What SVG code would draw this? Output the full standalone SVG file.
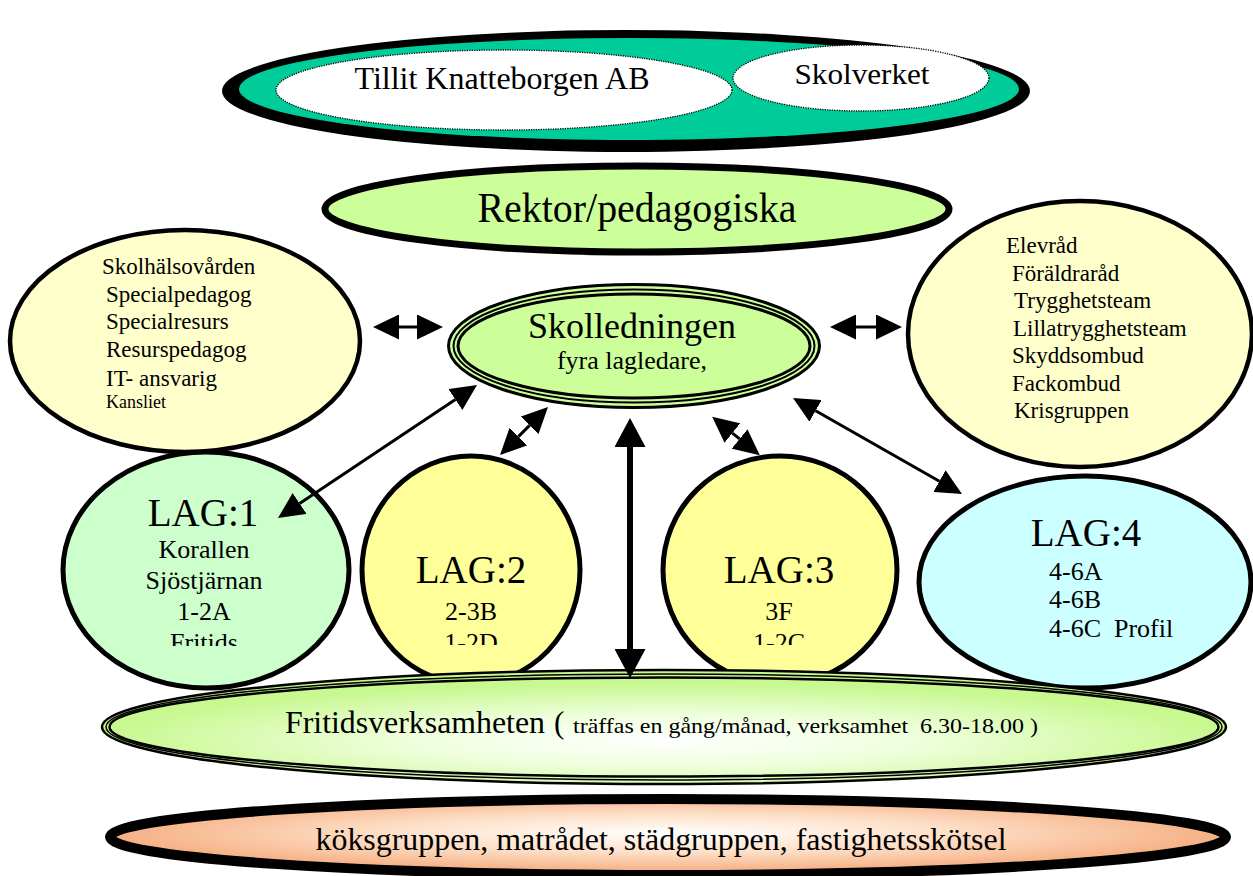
<svg xmlns="http://www.w3.org/2000/svg" width="1253" height="876" viewBox="0 0 1253 876">
<defs>
<style>
text{font-family:"Liberation Serif","Times New Roman",serif;fill:#000}
.mid{text-anchor:middle}
.ln{stroke:#000;fill:none}
.conn{stroke:#000;stroke-width:3;fill:none;marker-start:url(#ah);marker-end:url(#ah)}
.connB{stroke:#000;stroke-width:6;fill:none;marker-start:url(#ahB);marker-end:url(#ahB)}
.dot{fill:#fff;stroke:#000;stroke-width:1.3;stroke-dasharray:1.2 1.2}
</style>
<marker id="ah" markerUnits="userSpaceOnUse" viewBox="0 0 26 25" markerWidth="26" markerHeight="25" refX="0" refY="12.5" orient="auto-start-reverse"><path d="M0,0 L26,12.5 L0,25 Z" fill="#000"/></marker>
<marker id="ahB" markerUnits="userSpaceOnUse" viewBox="0 0 29 31" markerWidth="29" markerHeight="31" refX="0" refY="15.5" orient="auto-start-reverse"><path d="M0,0 L29,15.5 L0,31 Z" fill="#000"/></marker>
<radialGradient id="gFrit" cx="0.5" cy="0.62" r="0.5">
<stop offset="0" stop-color="#FFFFFF"/><stop offset="0.45" stop-color="#EFFFDD"/><stop offset="1" stop-color="#C8F890"/>
</radialGradient>
<radialGradient id="gKok" cx="0.5" cy="0.45" r="0.5">
<stop offset="0" stop-color="#FFFFFF"/><stop offset="0.5" stop-color="#FDE0C8"/><stop offset="1" stop-color="#F6B084"/>
</radialGradient>
<clipPath id="clipL1"><rect x="0" y="0" width="1253" height="646"/></clipPath>
<clipPath id="clipL23"><rect x="0" y="0" width="1253" height="645"/></clipPath>
</defs>

<g id="top-owner">
<ellipse cx="626" cy="91" rx="404" ry="61" fill="#000"/>
<ellipse cx="629" cy="89" rx="390" ry="51" fill="#00CC99"/>
<ellipse class="dot" cx="504" cy="90" rx="228" ry="40"/>
<ellipse class="dot" cx="861" cy="78" rx="128" ry="33"/>
<text class="mid" x="502" y="89" font-size="32" textLength="295" lengthAdjust="spacingAndGlyphs">Tillit Knatteborgen AB</text>
<text class="mid" x="862" y="84" font-size="30" textLength="135" lengthAdjust="spacingAndGlyphs">Skolverket</text>
</g>

<g id="rektor">
<ellipse cx="637" cy="209" rx="312" ry="43" fill="#CCFF99" stroke="#000" stroke-width="7"/>
<text class="mid" x="637" y="222" font-size="43" textLength="319" lengthAdjust="spacingAndGlyphs">Rektor/pedagogiska</text>
</g>

<g id="elevhalsa">
<ellipse cx="185" cy="341" rx="175" ry="111" fill="#FFFFCC" stroke="#000" stroke-width="4.5"/>
<text x="102" y="274" font-size="23">Skolhälsovården</text>
<text x="106" y="302" font-size="23">Specialpedagog</text>
<text x="106" y="329" font-size="23">Specialresurs</text>
<text x="106" y="357" font-size="23">Resurspedagog</text>
<text x="106" y="386" font-size="23">IT- ansvarig</text>
<text x="106" y="408" font-size="18">Kansliet</text>
</g>

<g id="rad">
<ellipse cx="1080" cy="334" rx="172" ry="133" fill="#FFFFCC" stroke="#000" stroke-width="4.5"/>
<text x="1006" y="253" font-size="23">Elevråd</text>
<text x="1012" y="281" font-size="23">Föräldraråd</text>
<text x="1014" y="308" font-size="23">Trygghetsteam</text>
<text x="1013" y="336" font-size="23">Lillatrygghetsteam</text>
<text x="1012" y="363" font-size="23">Skyddsombud</text>
<text x="1012" y="391" font-size="23">Fackombud</text>
<text x="1014" y="418" font-size="23">Krisgruppen</text>
</g>

<g id="skolledningen">
<ellipse cx="634" cy="346" rx="185.5" ry="61.5" fill="#CCFF99" stroke="#000" stroke-width="3"/>
<ellipse class="ln" cx="634" cy="346" rx="180.5" ry="56.5" stroke-width="2"/>
<ellipse class="ln" cx="634" cy="346" rx="176" ry="52" stroke-width="3"/>
<text class="mid" x="632" y="338" font-size="36">Skolledningen</text>
<text class="mid" x="632" y="369" font-size="26">fyra lagledare,</text>
</g>

<g id="lag1">
<ellipse cx="206" cy="570" rx="143" ry="118" fill="#CCFFCC" stroke="#000" stroke-width="5"/>
<g clip-path="url(#clipL1)">
<text class="mid" x="203" y="526" font-size="39">LAG:1</text>
<text class="mid" x="204" y="558" font-size="26">Korallen</text>
<text class="mid" x="204" y="589" font-size="26">Sjöstjärnan</text>
<text class="mid" x="204" y="620" font-size="26">1-2A</text>
<text class="mid" x="204" y="651" font-size="26">Fritids</text>
</g>
</g>

<g id="lag2">
<ellipse cx="471" cy="570" rx="109" ry="114" fill="#FFFF99" stroke="#000" stroke-width="5"/>
<g clip-path="url(#clipL23)">
<text class="mid" x="471" y="583" font-size="39">LAG:2</text>
<text class="mid" x="471" y="620" font-size="26">2-3B</text>
<text class="mid" x="471" y="651" font-size="26">1-2D</text>
</g>
</g>

<g id="lag3">
<ellipse cx="780" cy="570" rx="117" ry="114" fill="#FFFF99" stroke="#000" stroke-width="5"/>
<g clip-path="url(#clipL23)">
<text class="mid" x="779" y="583" font-size="39">LAG:3</text>
<text class="mid" x="779" y="620" font-size="26">3F</text>
<text class="mid" x="779" y="651" font-size="26">1-2C</text>
</g>
</g>

<g id="lag4">
<ellipse cx="1085" cy="582" rx="166" ry="106" fill="#CCFFFF" stroke="#000" stroke-width="5"/>
<text class="mid" x="1086" y="546" font-size="39">LAG:4</text>
<text x="1049" y="580" font-size="26">4-6A</text>
<text x="1049" y="608" font-size="26">4-6B</text>
<text x="1049" y="637" font-size="26" xml:space="preserve">4-6C  Profil</text>
</g>

<g id="fritids">
<ellipse cx="664" cy="727" rx="562" ry="57" fill="url(#gFrit)" stroke="#000" stroke-width="2.5"/>
<ellipse class="ln" cx="664" cy="727" rx="558" ry="53" stroke-width="1.5"/>
<ellipse class="ln" cx="664" cy="727" rx="554.5" ry="49.5" stroke-width="2.5"/>
<text x="285" y="733" font-size="31" textLength="260" lengthAdjust="spacingAndGlyphs">Fritidsverksamheten</text>
<text x="554" y="733" font-size="31">(</text>
<text x="573" y="733" font-size="21" textLength="465" lengthAdjust="spacingAndGlyphs" xml:space="preserve">träffas en gång/månad, verksamhet  6.30-18.00 )</text>
</g>

<g id="service">
<ellipse cx="668" cy="837" rx="558" ry="38" fill="url(#gKok)" stroke="#000" stroke-width="10"/>
<text class="mid" x="661" y="850" font-size="32" textLength="691" lengthAdjust="spacingAndGlyphs">köksgruppen, matrådet, städgruppen, fastighetsskötsel</text>
</g>

<g id="connectors">
<path class="conn" d="M399,327 L417,327"/>
<path class="conn" d="M856,327 L876,327"/>
<path class="conn" d="M455.4,399.5 L299.6,503.5"/>
<path class="conn" d="M529.6,425.4 L518.4,436.6"/>
<path class="conn" d="M732.4,433.1 L739.6,438.9"/>
<path class="conn" d="M815.6,410.8 L939.4,481.2"/>
<path class="connB" d="M630,447 L630,649"/>
</g>
</svg>
